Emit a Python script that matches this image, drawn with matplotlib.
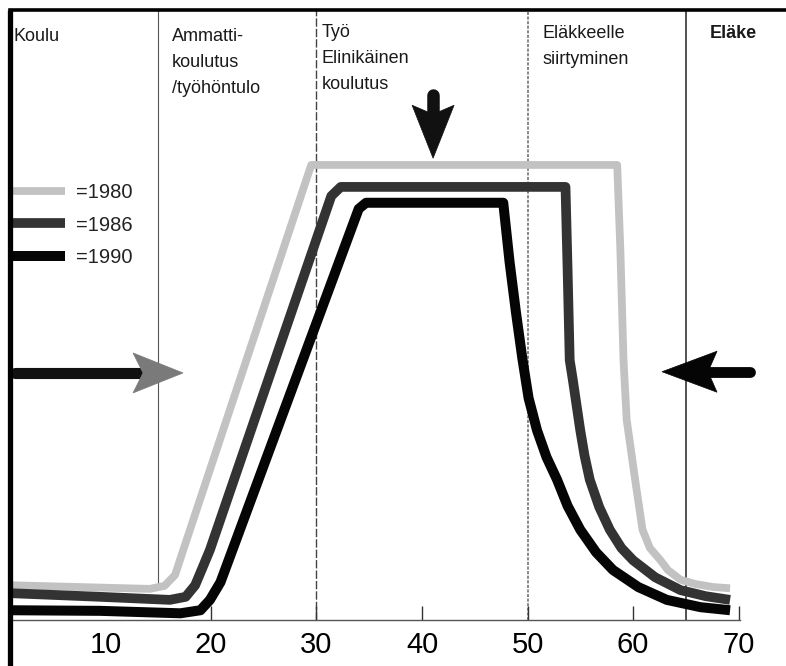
import matplotlib
matplotlib.use("Agg")
import matplotlib.pyplot as plt
from matplotlib.lines import Line2D
from matplotlib.patches import Polygon

# ---------------- data ----------------
age_1980 = [0.95, 7.6, 14.2, 15.6, 16.6, 17.3, 29.5, 58.5, 58.8, 59.1, 59.4, 60.2, 60.9,
            61.6, 62.6, 63.3, 64.5, 65.9, 67.6, 69.2]
share_1980 = [5.7, 5.4, 5.1, 5.6, 7.4, 11.1, 74.6, 74.6, 60.7, 42.6, 32.8, 23.0, 14.8,
              11.8, 9.8, 8.2, 6.6, 5.9, 5.4, 5.2]

age_1986 = [0.95, 9.5, 16.1, 17.6, 18.5, 19.3, 19.9, 31.4, 32.3, 53.6, 53.8, 54.0, 54.3,
            55.0, 55.4, 55.9, 56.8, 57.8, 58.9, 60.0, 62.1, 64.5, 66.9, 69.2]
share_1986 = [4.4, 3.8, 3.3, 3.8, 5.7, 9.0, 11.5, 69.5, 71.0, 71.0, 57.4, 42.6, 39.3,
              31.1, 27.0, 23.0, 18.5, 14.8, 11.8, 9.8, 7.0, 4.9, 3.9, 3.3]

age_1990 = [0.95, 9.5, 17.1, 19.0, 19.9, 20.9, 34.0, 34.7, 47.7, 48.3, 48.9, 49.5, 50.1,
            50.9, 51.8, 52.8, 53.8, 55.0, 56.5, 58.1, 60.5, 63.2, 66.4, 69.2]
share_1990 = [1.6, 1.5, 1.1, 1.6, 3.3, 6.2, 67.4, 68.4, 68.4, 58.7, 50.5, 43.0, 36.4,
              31.1, 26.7, 23.0, 18.7, 14.8, 11.1, 8.2, 5.4, 3.3, 2.1, 1.6]

series_labels = ["=1980", "=1986", "=1990"]

phase_bounds = [15, 30, 50, 65]
phase_lines = [["Koulu"],
               ["Ammatti-", "koulutus", "/työhöntulo"],
               ["Työ", "Elinikäinen", "koulutus"],
               ["Eläkkeelle", "siirtyminen"],
               ["Eläke"]]
phase_x = [1.25, 16.3, 30.5, 51.4, 67.3]
phase_first_y = [94.9, 94.9, 95.6, 95.4, 95.4]

tick_values = [10, 20, 30, 40, 50, 60, 70]
tick_labels = ["10", "20", "30", "40", "50", "60", "70"]

# ---------------- figure ----------------
W, H = 786, 666
fig = plt.figure(figsize=(W / 100, H / 100), dpi=100)
fig.patch.set_facecolor("white")
ax = fig.add_axes([10 / W, 46 / H, 776 / W, 610 / H])
ax.set_xlim(0.95, 74.5)
ax.set_ylim(0, 100)

# spines
ax.spines["right"].set_visible(False)
ax.spines["left"].set_visible(False)
ax.spines["top"].set_linewidth(2.6)
ax.spines["top"].set_color("black")
ax.spines["bottom"].set_linewidth(1.0)
ax.spines["bottom"].set_color("#555555")
ax.spines["bottom"].set_bounds(0.95, 70.1)

# thick left border reaching the bottom of the picture
fig.add_artist(Line2D([10 / W, 10 / W], [0, 1 - 10 / H], transform=fig.transFigure,
                      color="black", lw=3.8, solid_capstyle="butt"))

# phase boundaries
vl_styles = [dict(color="#555555", lw=0.8, ls="-", ymin=0.06),
             dict(color="#444444", lw=1.0, ls=(0, (6, 1.5)), ymin=0.0),
             dict(color="#666666", lw=1.1, ls=(0, (2, 1)), ymin=0.0),
             dict(color="#222222", lw=1.1, ls="-", ymin=0.0)]
for xb, st in zip(phase_bounds, vl_styles):
    ax.axvline(xb, ymin=st["ymin"], ymax=1, color=st["color"], lw=st["lw"], ls=st["ls"], zorder=1)

# curves
l80, = ax.plot(age_1980, share_1980, color="#c2c2c2", lw=5.6, solid_joinstyle="round",
               solid_capstyle="butt", zorder=2, label=series_labels[0])
l86, = ax.plot(age_1986, share_1986, color="#333333", lw=7.0, solid_joinstyle="round",
               solid_capstyle="butt", zorder=3, label=series_labels[1])
l90, = ax.plot(age_1990, share_1990, color="#050505", lw=7.2, solid_joinstyle="round",
               solid_capstyle="butt", zorder=4, label=series_labels[2])

# legend
leg = ax.legend(handles=[l80, l86, l90], loc="upper left", bbox_to_anchor=(0.0, 0.717),
                frameon=False, borderpad=0, borderaxespad=0, handlelength=2.75,
                handletextpad=0.55, labelspacing=0.69,
                prop=dict(family="Liberation Sans", size=14.5))
for t in leg.get_texts():
    t.set_color("#222222")

# x ticks
ax.set_xticks(tick_values)
ax.set_xticklabels(tick_labels, fontsize=21, family="Liberation Sans")
ax.tick_params(axis="x", direction="in", length=10, width=1.0, color="#333333", pad=8)
ax.tick_params(axis="y", left=False, labelleft=False)
ax.xaxis.get_major_ticks()[0].tick1line.set_visible(False)

# header texts
pitch = 26 / 6.1
for i, (lines, x0, y0) in enumerate(zip(phase_lines, phase_x, phase_first_y)):
    for k, line in enumerate(lines):
        ax.text(x0, y0 - k * pitch, line, ha="left", va="baseline",
                fontsize=13, family="Liberation Sans", color="#1a1a1a",
                fontweight="bold" if i == 4 else "normal")

# arrows (sizes in pixels)
sx = ax.bbox.width / (ax.get_xlim()[1] - ax.get_xlim()[0])
sy = ax.bbox.height / (ax.get_ylim()[1] - ax.get_ylim()[0])


def arrow(tip, d, head_len, head_half, notch, shaft_len, shaft_w, shaft_color, head_color):
    dx, dy = d
    nx, ny = -dy, dx

    def to_data(u, v):
        px = u * dx + v * nx
        py = u * dy + v * ny
        return (tip[0] + px / sx, tip[1] + py / sy)

    head = [to_data(0, 0), to_data(-head_len, head_half), to_data(-notch, 0),
            to_data(-head_len, -head_half)]
    tail = to_data(-shaft_len, 0)
    neck = to_data(-notch + 3, 0)
    ax.plot([tail[0], neck[0]], [tail[1], neck[1]], color=shaft_color, lw=shaft_w,
            solid_capstyle="round", zorder=5, clip_on=False)
    ax.add_patch(Polygon(head, closed=True, facecolor=head_color, edgecolor=head_color,
                         lw=0.5, zorder=6, clip_on=False))


arrow((17.35, 40.5), (1, 0), 50, 20, 40, 168, 8.0, "#111111", "#7a7a7a")
arrow((62.75, 40.7), (-1, 0), 55, 20.5, 46, 88, 7.8, "#050505", "#050505")
arrow((41.05, 75.7), (0, -1), 53, 21, 44, 63, 9.0, "#111111", "#111111")

fig.savefig("out.png", dpi=100, facecolor="white")
